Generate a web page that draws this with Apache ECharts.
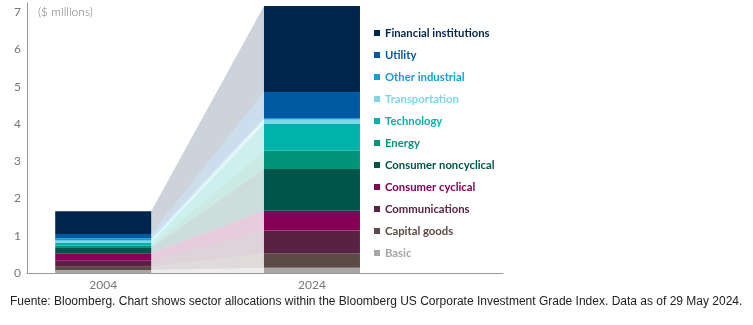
<!DOCTYPE html>
<html><head><meta charset="utf-8">
<script src="https://cdn.jsdelivr.net/npm/echarts@6/dist/echarts.min.js"></script>
<style>html,body{margin:0;padding:0;background:#fff}#c{width:753px;height:325px}</style>
</head><body><div id="c"></div>
<script>
// Data (values in $ millions), stacked bottom to top
const years = [2004, 2024];
const sectors = ['Basic','Capital goods','Communications','Consumer cyclical','Consumer noncyclical','Energy','Technology','Transportation','Other industrial','Utility','Financial institutions'];
const values2004 = [0.08, 0.09, 0.16, 0.20, 0.14, 0.06, 0.09, 0.05, 0.06, 0.12, 0.61];
const values2024 = [0.14, 0.39, 0.61, 0.53, 1.12, 0.49, 0.72, 0.12, 0.04, 0.70, 2.31];
const yTicks = [0, 1, 2, 3, 4, 5, 6, 7];
const colors = ['#a9a5a4','#5b4a46','#5a2242','#850057','#00554a','#00957a','#00b3aa','#7fd6e6','#109fd8','#0059a1','#00254d'];

const cum = (arr) => { const lo=[], hi=[]; let s=0; arr.forEach(v=>{lo.push(s); s+=v; hi.push(s);}); return {lo, hi}; };
const c04 = cum(values2004), c24 = cum(values2024);
const HALF = 48;

const chart = echarts.init(document.getElementById('c'));
const barSeries = sectors.map((name, i) => ({
  name, type: 'custom', z: 3, silent: true,
  itemStyle: { color: colors[i] },
  data: [[years[0], c04.lo[i], c04.hi[i]], [years[1], c24.lo[i], c24.hi[i]]],
  encode: { x: 0, y: [1, 2] },
  renderItem: (params, api) => {
    const lo = api.coord([api.value(0), api.value(1)]);
    const hi = api.coord([api.value(0), api.value(2)]);
    return { type: 'rect', shape: { x: lo[0] - HALF, y: hi[1], width: HALF * 2, height: lo[1] - hi[1] },
      style: { fill: colors[i] } };
  }
}));
const bandSeries = {
  type: 'custom', name: 'bands', z: 1, silent: true,
  data: sectors.map((s, i) => [i]),
  encode: { x: -1, y: -1 },
  renderItem: (params, api) => {
    const i = api.value(0);
    const a1 = api.coord([years[0], c04.lo[i]]), a2 = api.coord([years[0], c04.hi[i]]);
    const b1 = api.coord([years[1], c24.lo[i]]), b2 = api.coord([years[1], c24.hi[i]]);
    return { type: 'polygon', shape: { points: [[a1[0]+HALF, a1[1]], [a2[0]+HALF, a2[1]], [b2[0]-HALF, b2[1]], [b1[0]-HALF, b1[1]]] },
      style: { fill: colors[i], opacity: 0.2 } };
  }
};
const legendData = sectors.map((name, i) => ({ name, icon: 'rect', itemStyle: { color: colors[i] }, textStyle: { color: colors[i] } })).reverse();

chart.setOption({
  animation: false,
  title: { text: '($ millions)', left: 33, top: 1, textStyle: { fontFamily: 'Lato', fontWeight: 300, fontSize: 12, color: '#777' } },
  legend: {
    data: legendData, orient: 'vertical', left: 369, top: 21,
    itemWidth: 6, itemHeight: 6, itemGap: 8,
    textStyle: { fontFamily: 'Lato', fontWeight: 'bold', fontSize: 11.3, lineHeight: 14, padding: [0,0,0,0] },
    selectedMode: false
  },
  grid: { left: 27, right: 250, top: 3, bottom: 52 },
  xAxis: {
    type: 'value', min: 1996.7, max: 2042.3,
    splitLine: { show: false },
    axisLine: { show: true, lineStyle: { color: '#999' } },
    axisTick: { show: false },
    axisLabel: { customValues: years, formatter: v => String(v), color: '#777', fontFamily: 'Lato', fontSize: 12, margin: 6 }
  },
  yAxis: {
    type: 'value', min: 0, max: 7.25,
    splitLine: { show: false },
    axisLine: { show: true, lineStyle: { color: '#999' } },
    axisTick: { show: false },
    axisLabel: { customValues: yTicks, color: '#777', fontFamily: 'Lato', fontSize: 12, margin: 6 }
  },
  graphic: [{ type: 'text', left: 10, top: 296, style: { text: 'Fuente: Bloomberg. Chart shows sector allocations within the Bloomberg US Corporate Investment Grade Index. Data as of 29 May 2024.', font: '12px "Liberation Sans"', fill: '#222' } }],
  series: [bandSeries, ...barSeries]
});
</script></body></html>
